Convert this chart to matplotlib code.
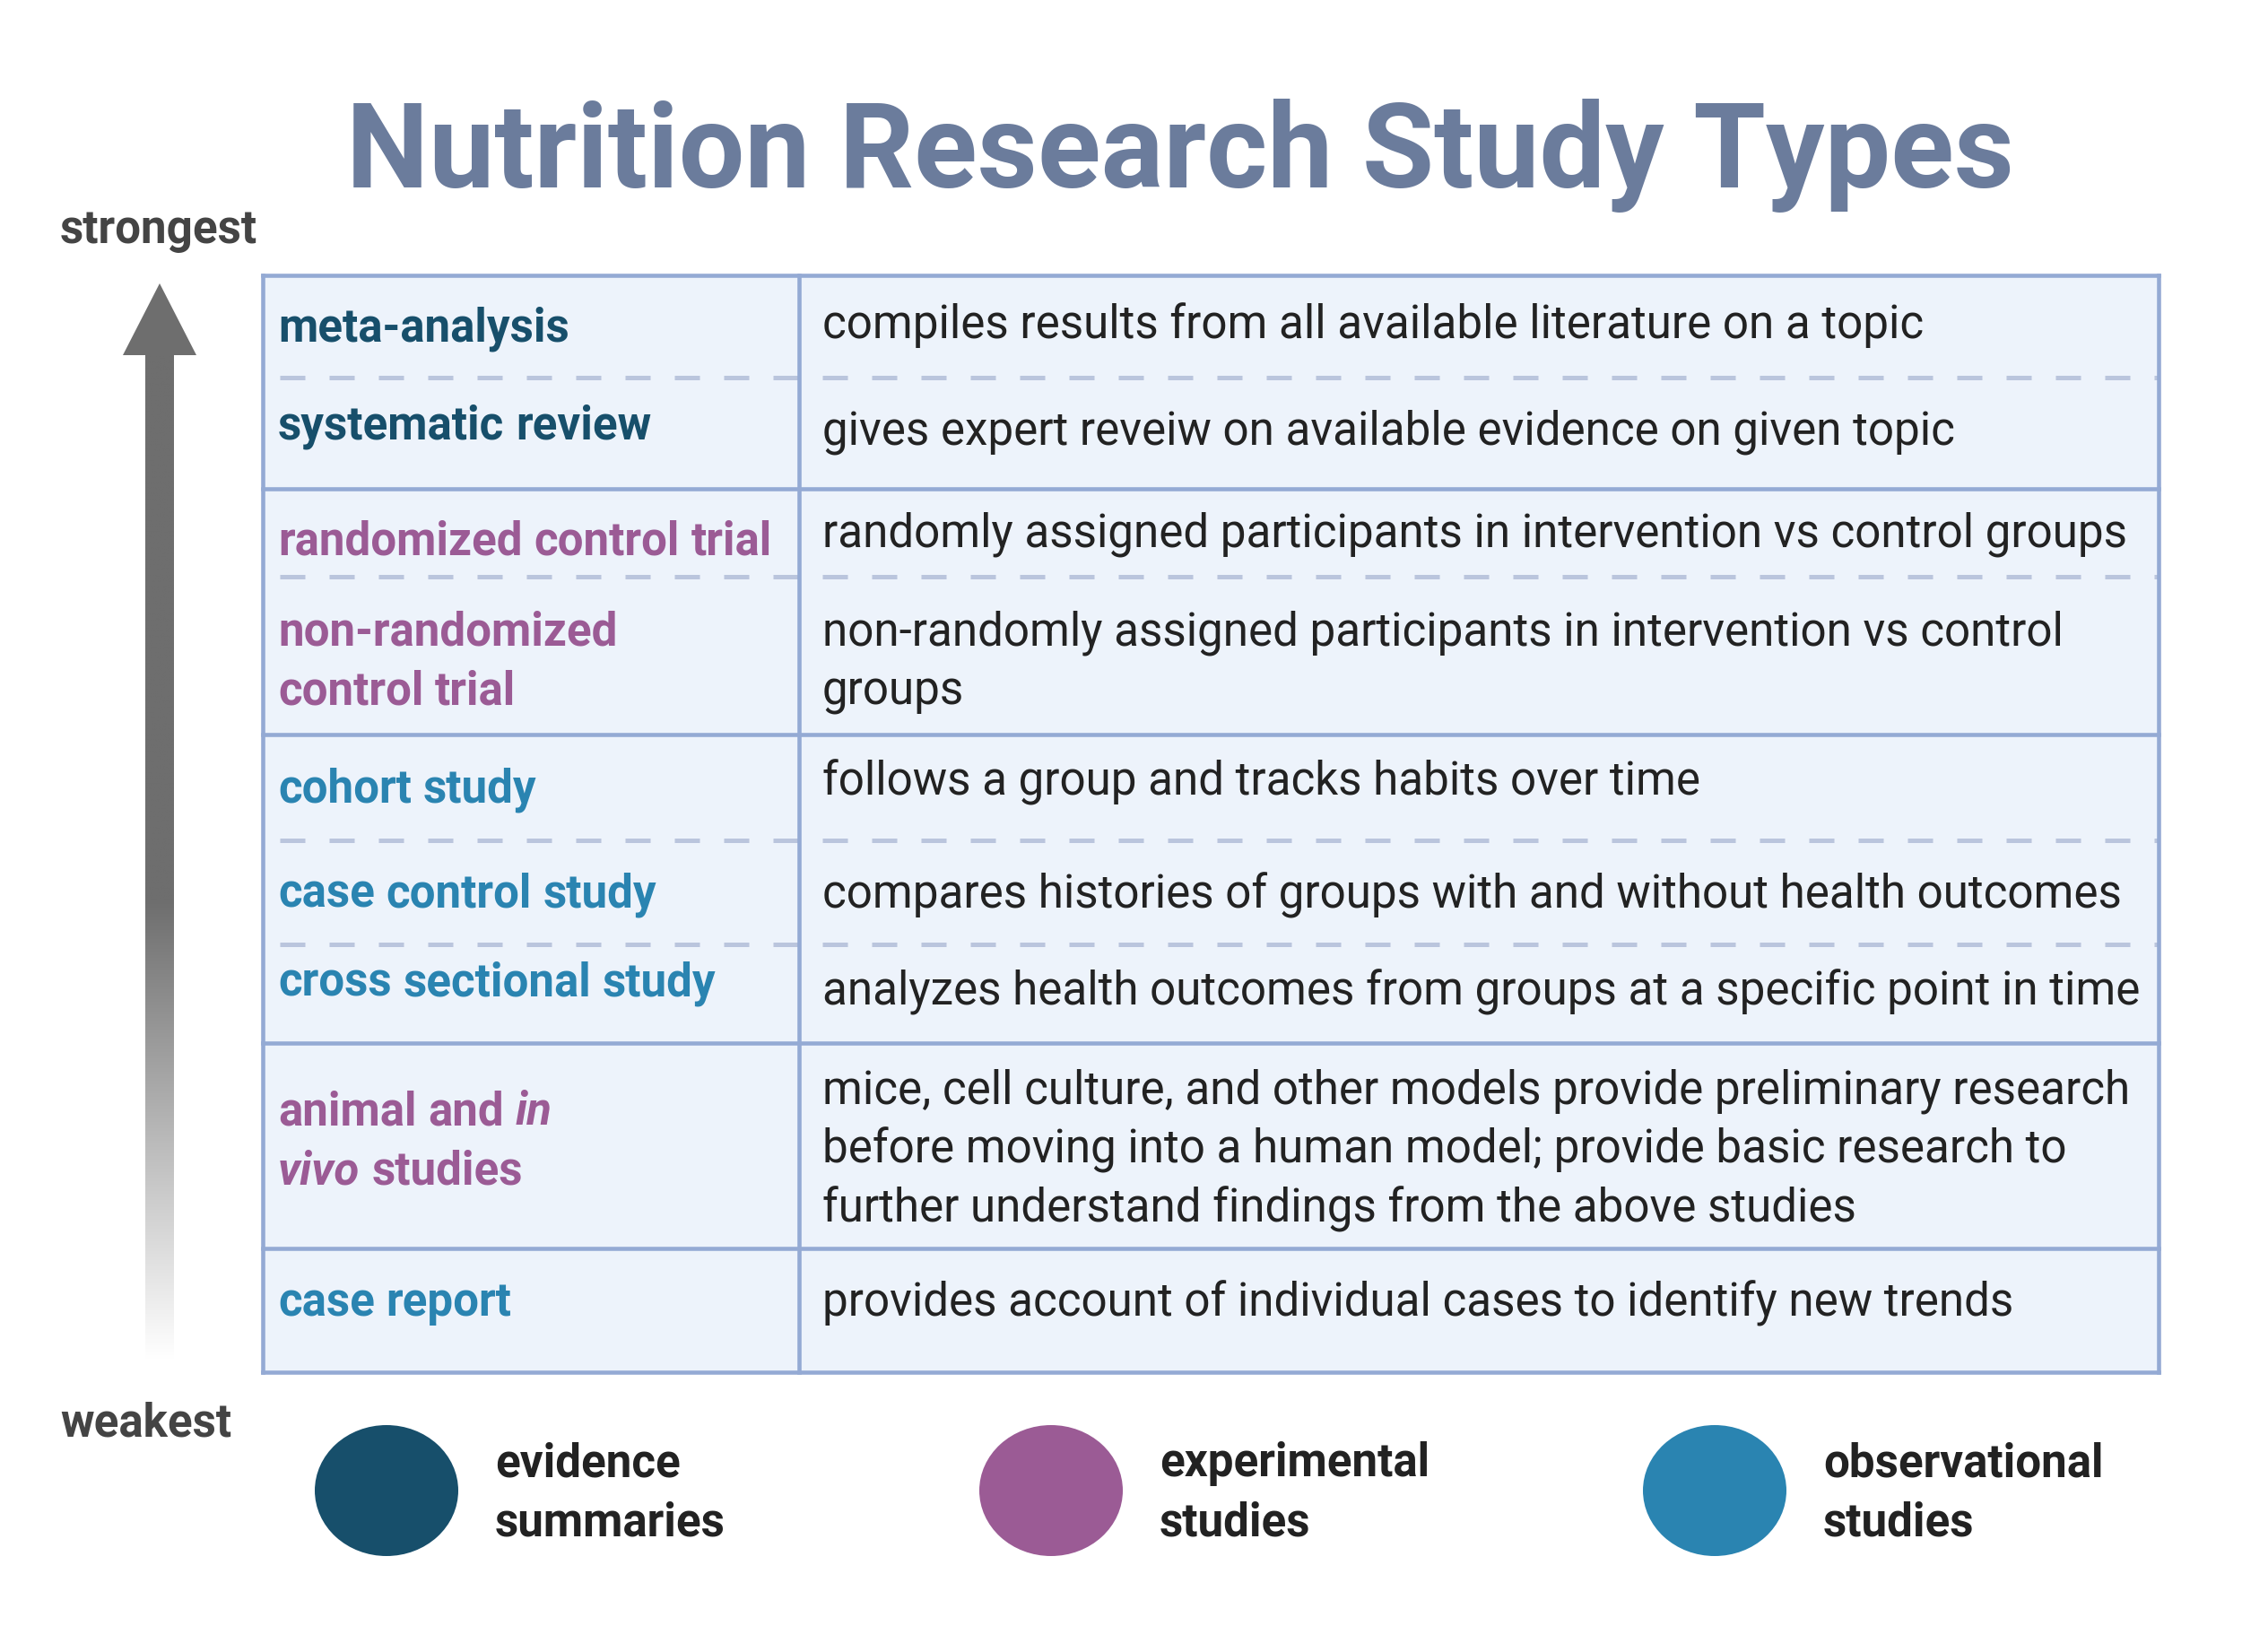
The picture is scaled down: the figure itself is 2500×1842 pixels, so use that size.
import matplotlib.pyplot as plt
import numpy as np
from matplotlib.patches import Ellipse, Polygon, Rectangle

plt.rcParams["font.family"] = ["Roboto", "DejaVu Sans"]

W, H = 2500, 1842

# ---- datos ----
titulo = "Nutrition Research Study Types"

tipos_estudio = [
    "meta-analysis",
    "systematic review",
    "randomized control trial",
    "non-randomized\ncontrol trial",
    "cohort study",
    "case control study",
    "cross sectional study",
    "animal and _in_\n_vivo_ studies",
    "case report",
]

descripciones = [
    "compiles results from all available literature on a topic",
    "gives expert reveiw on available evidence on given topic",
    "randomly assigned participants in intervention vs control groups",
    "non-randomly assigned participants in intervention vs control\ngroups",
    "follows a group and tracks habits over time",
    "compares histories of groups with and without health outcomes",
    "analyzes health outcomes from groups at a specific point in time",
    "mice, cell culture, and other models provide preliminary research\n"
    "before moving into a human model; provide basic research to\n"
    "further understand findings from the above studies",
    "provides account of individual cases to identify new trends",
]

categoria = [
    "evidence", "evidence",
    "experimental", "experimental",
    "observational", "observational", "observational",
    "experimental",
    "observational",
]

# bloques de la tabla separados por linea solida
grupo = [1, 1, 2, 2, 3, 3, 3, 4, 5]

categorias = ["evidence", "experimental", "observational"]
etiquetas_leyenda = ["evidence\nsummaries", "experimental\nstudies", "observational\nstudies"]
colores = {
    "evidence": "#174f6b",
    "experimental": "#9b5b95",
    "observational": "#2a84b1",
}

# ---- layout (pixeles) ----
TABLA_IZQ, TABLA_DER = 293, 2407
COL_DIV = 891
LIMITES_FILAS = [307, 421, 545, 643, 819, 937, 1053, 1163, 1392, 1530]
BASE_IZQ = [381, 489, 618, 719, 894, 1011, 1110, 1254, 1467]
BASE_DER = [377, 495, 609, 719, 886, 1012, 1120, 1230, 1467]
PASO_LINEA = 66
X_IZQ, X_DER = 310, 917
LEYENDA_X = [431, 1172, 1912]
LEYENDA_Y = 1662

FS = 36.8
COLOR_BORDE = "#94aad4"
COLOR_GUION = "#bac5dd"
COLOR_FONDO = "#edf3fb"
COLOR_TEXTO = "#222222"
GRIS = "#6e6e6e"

fig = plt.figure(figsize=(W / 100, H / 100), dpi=100)
ax = fig.add_axes([0, 0, 1, 1])
ax.set_xlim(0, W)
ax.set_ylim(H, 0)
ax.axis("off")
renderer = fig.canvas.get_renderer()

# titulo
ax.text(386, 209, titulo, fontsize=94, fontweight="bold", color="#6b7c9c",
        ha="left", va="baseline")

# flecha de fuerza de evidencia
ax.text(67, 271, "strongest", fontsize=FS, fontweight="bold", color="#444444",
        va="baseline")
ax.text(67, 1601, "weakest", fontsize=FS, fontweight="bold", color="#444444",
        va="baseline")
ax.add_patch(Polygon([(137, 396), (178, 316), (219, 396)], closed=True,
                     facecolor=GRIS, edgecolor="none"))
ys = np.linspace(396, 1520, 600)
t = np.clip((ys - 1005) / (1515 - 1005), 0, 1)
nivel = (110 + (255 - 110) * t) / 255
grad = np.stack([nivel, nivel, nivel], axis=-1)[:, None, :]
ax.imshow(grad, extent=(162, 194, 1520, 396), origin="upper", aspect="auto",
          interpolation="bilinear", zorder=1)
ax.set_xlim(0, W)
ax.set_ylim(H, 0)

# tabla
ax.add_patch(Rectangle((TABLA_IZQ, LIMITES_FILAS[0]), TABLA_DER - TABLA_IZQ,
                       LIMITES_FILAS[-1] - LIMITES_FILAS[0],
                       facecolor=COLOR_FONDO, edgecolor="none", zorder=0))

for i, y in enumerate(LIMITES_FILAS):
    if i == 0 or i == len(LIMITES_FILAS) - 1 or grupo[i] != grupo[i - 1]:
        ax.plot([TABLA_IZQ, TABLA_DER], [y, y], color=COLOR_BORDE, lw=3.3,
                solid_capstyle="projecting", zorder=3)
    else:
        for x0, x1 in [(X_IZQ + 2, COL_DIV), (X_DER, TABLA_DER)]:
            ax.plot([x0, x1], [y, y], color=COLOR_GUION, lw=3.6,
                    linestyle=(0, (5.6, 5.4)), dash_capstyle="butt", zorder=2)

for x in [TABLA_IZQ, COL_DIV, TABLA_DER]:
    ax.plot([x, x], [LIMITES_FILAS[0], LIMITES_FILAS[-1]], color=COLOR_BORDE,
            lw=3.3, solid_capstyle="projecting", zorder=3)


def ancho(texto, **kw):
    tt = ax.text(0, 0, texto, fontsize=FS, **kw)
    w = tt.get_window_extent(renderer).width
    tt.remove()
    return w


ancho_espacio = ancho("a a", fontweight="bold") - ancho("aa", fontweight="bold")


def texto_mixto(x, y, texto, color):
    # partes entre "_" van en cursiva
    for k, linea in enumerate(texto.split("\n")):
        cursor = x
        partes = linea.split("_")
        for j, parte in enumerate(partes):
            if not parte:
                continue
            estilo = "italic" if j % 2 == 1 else "normal"
            for m, palabra in enumerate(parte.split(" ")):
                if m > 0:
                    cursor += ancho_espacio
                if not palabra:
                    continue
                tt = ax.text(cursor, y + k * PASO_LINEA, palabra, fontsize=FS,
                             fontweight="bold", fontstyle=estilo, color=color,
                             va="baseline", zorder=4)
                cursor += tt.get_window_extent(renderer).width


for i in range(len(tipos_estudio)):
    texto_mixto(X_IZQ, BASE_IZQ[i], tipos_estudio[i], colores[categoria[i]])
    for k, linea in enumerate(descripciones[i].split("\n")):
        ax.text(X_DER, BASE_DER[i] + k * PASO_LINEA, linea, fontsize=FS,
                color=COLOR_TEXTO, va="baseline", zorder=4)

# leyenda
for cat, etiqueta, cx in zip(categorias, etiquetas_leyenda, LEYENDA_X):
    ax.add_patch(Ellipse((cx, LEYENDA_Y), 160, 146, facecolor=colores[cat],
                         edgecolor="none"))
    for k, linea in enumerate(etiqueta.split("\n")):
        ax.text(cx + 121, 1646 + k * PASO_LINEA, linea, fontsize=FS,
                fontweight="bold", color=COLOR_TEXTO, va="baseline")

fig.savefig("out.png", dpi=100, facecolor="white")
